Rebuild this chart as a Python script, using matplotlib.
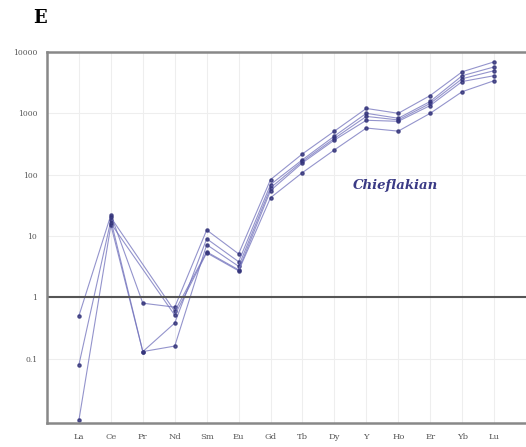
import matplotlib.pyplot as plt
import numpy as np

elements = ['La', 'Ce', 'Pr', 'Nd', 'Sm', 'Eu', 'Gd', 'Tb', 'Dy', 'Y', 'Ho', 'Er', 'Yb', 'Lu']
nan = np.nan

# chondrite-normalised values, one list per sample (nan = not plotted)
s1 = [0.5, 22, 0.8, 0.69, 12.5, 5.1, 83, 218, 512, 1200, 1000, 1950, 4750, 6900]
s2 = [0.08, 18, 0.13, 0.38, 9.0, 3.8, 69, 175, 425, 1000, 830, 1560, 4100, 5700]
s3 = [0.01, 15, 0.13, 0.16, 7.2, 3.2, 61, 165, 390, 890, 780, 1450, 3660, 4950]
s4 = [nan, 20, nan, 0.59, 5.5, 2.8, 55, 156, 366, 770, 740, 1340, 3300, 4100]
s5 = [nan, 16, nan, 0.51, 5.3, 2.7, 42, 108, 253, 575, 512, 1000, 2250, 3400]
samples = [s1, s2, s3, s4, s5]

yticks = [0.1, 1, 10, 100, 1000, 10000]
ylabels = ['0.1', '1', '10', '100', '1000', '10000']

fig = plt.figure(figsize=(5.26, 4.47), dpi=100)
ax = fig.add_axes([0.0894, 0.0537, 0.9106, 0.83])

x = np.arange(1, len(elements) + 1)
for s in samples:
    v = np.array(s, dtype=float)
    ok = np.isfinite(v)
    ax.plot(x[ok], v[ok], '-', color='#7070bb', lw=0.8, alpha=0.75)
    ax.plot(x[ok], v[ok], 'o', color='#33337a', ms=2.3, alpha=0.8)

ax.axhline(1, color='#555555', lw=1.5)

ax.set_yscale('log')
ax.set_ylim(0.0089, 10000)
ax.set_xlim(0, 15)
ax.set_xticks(x)
ax.set_xticklabels(elements, fontsize=6, family='DejaVu Serif', color='#555555')
ax.set_yticks(yticks)
ax.set_yticklabels(ylabels, fontsize=5.5, family='DejaVu Serif', color='#555555')
ax.minorticks_off()
ax.tick_params(length=0, pad=7)

ax.grid(True, color='#eeeeee', lw=0.8)
ax.set_axisbelow(True)

for side in ['left', 'top', 'bottom']:
    ax.spines[side].set_color('#888888')
    ax.spines[side].set_linewidth(1.8)
ax.spines['right'].set_visible(False)

ax.text(10.9, 66, 'Chieflakian', fontsize=9.5, family='DejaVu Serif', style='italic',
        weight='bold', color='#3a3a85', ha='center', va='center')
fig.text(0.076, 0.96, 'E', fontsize=13, family='DejaVu Serif', weight='bold',
         ha='center', va='center')

fig.savefig('out.png', dpi=100)
